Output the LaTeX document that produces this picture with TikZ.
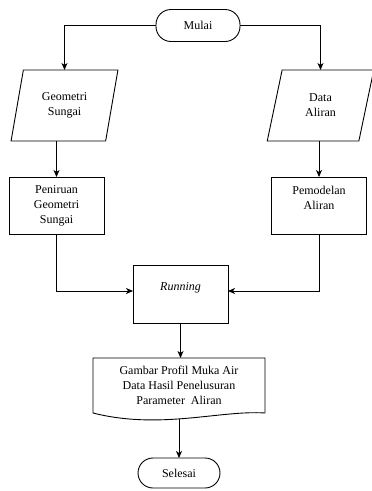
\documentclass[tikz,border=0pt]{standalone}
\usepackage{fontspec}
\setmainfont{Liberation Serif}
\usetikzlibrary{shapes.geometric,arrows.meta}
\begin{document}
\begin{tikzpicture}[x=1pt,y=-1pt,
  font=\fontsize{12}{15}\selectfont,
  every node/.style={outer sep=0pt, inner sep=2pt},
  term/.style={draw, line width=0.9pt, rounded corners=15pt, minimum height=32pt, align=center},
  para/.style={draw, line width=0.9pt, trapezium, trapezium left angle=76, trapezium right angle=104,
     trapezium stretches=true, minimum width=107pt, minimum height=71pt, align=center},
  proc/.style={draw, line width=0.9pt, rectangle, minimum width=95pt, minimum height=57pt, align=center},
  conn/.style={line width=0.9pt, -{Stealth[length=7pt,width=6pt,inset=2pt]}}
]
\useasboundingbox (0,0) rectangle (372,491);
\node[term, minimum width=84pt] (mulai) at (198,25.5) {Mulai};
\node[para] (geo) at (64.5,105.5) {Geometri\\Sungai};
\node[para] (dat) at (320.5,105.5) {Data\\Aliran};
\node[proc] (pen) at (56.5,205.5) {Peniruan\\Geometri\\Sungai};
\node[proc] (pem) at (319,205.5) {Pemodelan\\Aliran\\\mbox{}};
\node[proc, minimum height=58pt] (run) at (180.5,294) {\itshape Running\\\mbox{}};
\node[minimum width=172pt, minimum height=55pt, align=center] (doc) at (179,385.5)
  {Gambar Profil Muka Air\\Data Hasil Penelusuran\\Parameter\ \ Aliran};
\draw[line width=0.9pt] (doc.south east) -- (doc.north east) -- (doc.north west) -- (doc.south west)
  .. controls (160,430) and (220,410) .. coordinate[pos=0.45] (docb) (doc.south east);
\node[term, minimum width=82pt, minimum height=30pt] (sel) at (179,473) {Selesai};

\draw[conn] (mulai.west) -| (geo.north);
\draw[conn] (mulai.east) -| (dat.north);
\draw[conn] (geo.south -| pen.north) -- (pen.north);
\draw[conn] (dat.south -| pem.north) -- (pem.north);
\draw[conn] (pen.south) |- ([yshift=3pt]run.west);
\draw[conn] (pem.south) |- ([yshift=3pt]run.east);
\draw[conn] (run.south) -- (run.south |- doc.north);
\draw[conn] (docb -| sel.north) -- (sel.north);
\end{tikzpicture}
\end{document}
